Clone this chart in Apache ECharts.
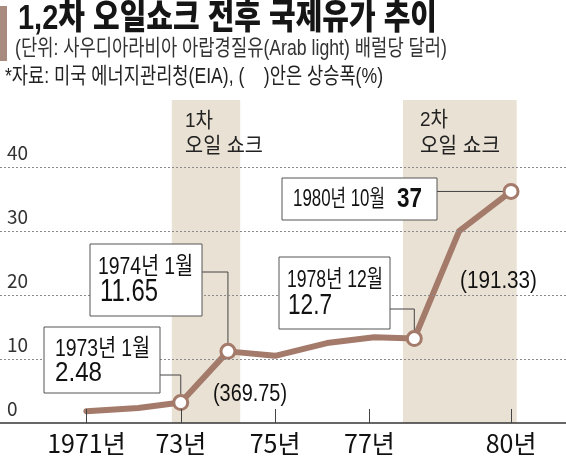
<!DOCTYPE html>
<html><head><meta charset="utf-8">
<script src="https://cdn.jsdelivr.net/npm/echarts@6/dist/echarts.min.js"></script>
<style>html,body{margin:0;padding:0;background:#fff}#c{width:566px;height:456px}</style>
</head><body><div id="c"></div>
<script>
// ---- data ----
const years = [1971, 1972.1, 1973, 1974, 1975, 1976.1, 1977.1, 1977.95, 1978.9, 1980];
const prices = [1.85, 2.35, 3.2, 11.2, 10.5, 12.5, 13.4, 13.2, 30.0, 36.2];
const markerIdx = [2, 3, 7, 9];
const tickYears = [1971, 1973, 1975, 1977, 1980];
const tickLabels = ['1971년', '73년', '75년', '77년', '80년'];
const gridValues = [10, 20, 30, 40];
const shockStart = [1972.81, 1977.71];
const shockEnd = [1974.26, 1980.12];
const shockNames = ['1차', '2차'];
const calloutDates = ['1973년 1월', '1974년 1월', '1978년 12월', '1980년 10월'];
const calloutValues = ['2.48', '11.65', '12.7', '37'];
const riseLabels = ['(369.75)', '(191.33)'];

const LINE = '#a47a6b';
const FONT = "'Liberation Sans', 'Noto Sans CJK KR', sans-serif";
const NARROW = "'Liberation Sans Narrow', 'Noto Sans CJK KR', sans-serif";

const chart = echarts.init(document.getElementById('c'), null, {renderer: 'canvas'});

const lineData = years.map((x, i) => ({
  value: [x, prices[i]],
  symbol: markerIdx.includes(i) ? 'circle' : 'none'
}));

chart.setOption({
  animation: false,
  grid: {left: 0, right: 0, top: 100, bottom: 28},
  xAxis: {
    type: 'value', min: 1969.169, max: 1981.165, z: 5,
    splitLine: {show: false},
    axisLine: {show: true, onZero: false, lineStyle: {color: '#333', width: 1.5}},
    axisTick: {show: true, inside: true, length: 14, customValues: tickYears, lineStyle: {color: '#444', width: 1}},
    axisLabel: {
      customValues: tickYears, margin: 8, color: '#111', fontSize: 25, fontFamily: NARROW,
      formatter: v => { const i = tickYears.indexOf(Math.round(v)); return i >= 0 ? tickLabels[i] : ''; }
    }
  },
  yAxis: {
    type: 'value', min: 0, max: 50.5, interval: 10,
    splitLine: {show: false}, axisLine: {show: false}, axisTick: {show: false},
    axisLabel: {
      inside: true, margin: 7, color: '#333', fontSize: 19, fontFamily: NARROW,
      verticalAlign: 'bottom', lineHeight: 19, padding: [0, 0, 5, 0],
      formatter: v => (v <= 40 && v % 10 === 0) ? String(v) : ''
    }
  },
  series: [
    {
      type: 'line', data: [], z: 0, silent: true,
      markArea: {
        silent: true,
        itemStyle: {color: '#e9e1d3'},
        data: shockStart.map((s, i) => [{xAxis: s}, {xAxis: shockEnd[i]}])
      }
    },
    {
      type: 'line', data: [], z: 1, silent: true,
      markLine: {
        silent: true, symbol: 'none', label: {show: false},
        lineStyle: {color: '#8a8a8a', type: [2, 2], width: 1},
        data: gridValues.map(v => ({yAxis: v}))
      }
    },
    {
      type: 'line', z: 3, data: lineData,
      lineStyle: {color: LINE, width: 6, join: 'round', cap: 'round'},
      symbolSize: 14,
      itemStyle: {color: '#fff', borderColor: LINE, borderWidth: 3},
      label: {show: false}
    }
  ]
});

// ---- annotations ----
const mctx = document.createElement('canvas').getContext('2d');
function fitText(str, left, cy, size, weight, width, color, family) {
  const font = (weight || 'normal') + ' ' + size + 'px ' + (family || FONT);
  mctx.font = font;
  const w = mctx.measureText(str).width;
  return {
    type: 'text', x: left, y: cy, scaleX: width / w, z: 20, silent: true,
    style: {text: str, font: font, fill: color || '#111', align: 'left', verticalAlign: 'middle',
            textAlign: 'left', textVerticalAlign: 'middle'}
  };
}
function box(x, y, w, h) {
  return {type: 'rect', z: 15, silent: true, shape: {x: x, y: y, width: w, height: h},
          style: {fill: '#fff', stroke: '#555', lineWidth: 1}};
}
function leader(fromX, y, idx) {
  const p = chart.convertToPixel({gridIndex: 0}, [years[idx], prices[idx]]);
  return {type: 'polyline', z: 2, silent: true,
          shape: {points: [[fromX, y], [p[0], y], [p[0], p[1]]]},
          style: {stroke: '#444', lineWidth: 1, fill: null}};
}

const g = [];
// title block
g.push({type: 'rect', z: 15, shape: {x: 0, y: 6, width: 7, height: 55}, style: {fill: '#a88a7e'}});
g.push(fitText('1,2차 오일쇼크 전후 국제유가 추이', 18, 19, 35, '900', 419, '#151515'));
g.push(fitText('(단위: 사우디아라비아 아랍경질유(Arab light) 배럴당 달러)', 15, 49, 22, 'normal', 432, '#333'));
g.push(fitText('*자료: 미국 에너지관리청(EIA), (    )안은 상승폭(%)', 5, 77, 22, 'normal', 378, '#222'));

// shock labels
g.push(fitText(shockNames[0], 185, 121, 21, 'normal', 28, '#222'));
g.push(fitText('오일 쇼크', 185, 146, 21, 'normal', 78, '#222'));
g.push(fitText(shockNames[1], 420, 120, 21, 'normal', 28, '#222'));
g.push(fitText('오일 쇼크', 420, 146, 21, 'normal', 80, '#222'));

// leaders
g.push(leader(160, 375, markerIdx[0]));
g.push(leader(202, 272, markerIdx[1]));
g.push(leader(390, 309, markerIdx[2]));
g.push(leader(437, chart.convertToPixel({gridIndex: 0}, [years[9], prices[9]])[1], markerIdx[3]));

// callout boxes
g.push(box(44, 327, 116, 66));
g.push(fitText(calloutDates[0], 55, 349, 24, 'normal', 95, '#111'));
g.push(fitText(calloutValues[0], 55, 373, 28, 'normal', 47, '#111'));

g.push(box(90, 244, 112, 72));
g.push(fitText(calloutDates[1], 98, 267, 24, 'normal', 95, '#111'));
g.push(fitText(calloutValues[1], 100, 292, 32, 'normal', 58, '#111'));

g.push(box(279, 257, 111, 72));
g.push(fitText(calloutDates[2], 287, 280, 24, 'normal', 96, '#111'));
g.push(fitText(calloutValues[2], 288, 306, 30, 'normal', 44, '#111'));

g.push(box(282, 178, 155, 42));
g.push(fitText(calloutDates[3], 293, 200, 23, 'normal', 92, '#111'));
g.push(fitText(calloutValues[3], 397, 199, 28, 'bold', 25, '#111'));

// rise labels
g.push(fitText(riseLabels[0], 213, 395, 23, 'normal', 74, '#111'));
g.push(fitText(riseLabels[1], 460, 282, 23, 'normal', 77, '#111'));

chart.setOption({graphic: {elements: g}});
</script>
</body></html>
